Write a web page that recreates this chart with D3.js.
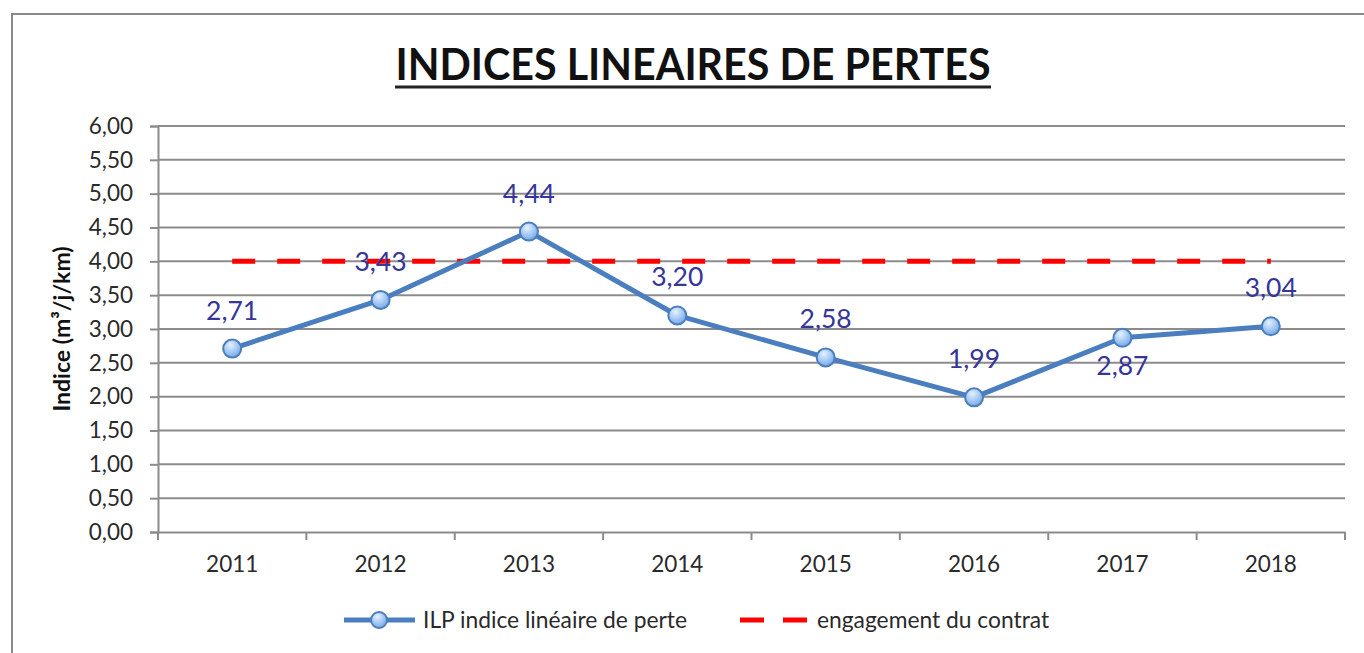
<!DOCTYPE html>
<html>
<head>
<meta charset="utf-8">
<script src="https://cdn.jsdelivr.net/npm/d3@7"></script>
<style>
  body { margin: 0; background: #fff; }
  svg { display: block; }
  svg text { font-family: Lato, "Open Sans", sans-serif; }
</style>
</head>
<body>
<svg id="chart"></svg>
<script>
var years = ["2011", "2012", "2013", "2014", "2015", "2016", "2017", "2018"];
var ilp = [2.71, 3.43, 4.44, 3.20, 2.58, 1.99, 2.87, 3.04];
var engagement = [4, 4, 4, 4, 4, 4, 4, 4];
var yTicks = [0, 0.5, 1, 1.5, 2, 2.5, 3, 3.5, 4, 4.5, 5, 5.5, 6];
// label placement: 1 = above the point, -1 = below
var labelSide = [1, 1, 1, 1, 1, 1, -1, 1];

var width = 1364, height = 653;
var margin = {top: 126, right: 19, bottom: 121, left: 158};

var fr = d3.formatLocale({decimal: ",", thousands: " ", grouping: [3], currency: ["", " €"]});
var fmt = fr.format(".2f");

var svg = d3.select("#chart")
    .attr("width", width)
    .attr("height", height);

// outer frame
svg.append("rect")
    .attr("x", 12).attr("y", 14)
    .attr("width", width + 10).attr("height", height + 10)
    .attr("fill", "#fff")
    .attr("stroke", "#8a8a8a")
    .attr("stroke-width", 2);

var x = d3.scaleBand()
    .domain(years)
    .range([margin.left, width - margin.right]);

var y = d3.scaleLinear()
    .domain([0, 6])
    .range([height - margin.bottom, margin.top]);

var cx = d => x(d) + x.bandwidth() / 2;

// title
svg.append("text")
    .attr("x", 693).attr("y", 80)
    .attr("text-anchor", "middle")
    .attr("font-size", 44)
    .attr("font-weight", "bold")
    .attr("textLength", 595)
    .attr("lengthAdjust", "spacingAndGlyphs")
    .attr("fill", "#111")
    .text("INDICES LINEAIRES DE PERTES");
svg.append("line")
    .attr("x1", 693 - 298).attr("x2", 693 + 298)
    .attr("y1", 87).attr("y2", 87)
    .attr("stroke", "#222").attr("stroke-width", 3);

// gridlines
svg.append("g")
    .selectAll("line")
    .data(yTicks.filter(d => d > 0))
    .join("line")
    .attr("x1", margin.left).attr("x2", width - margin.right)
    .attr("y1", d => y(d)).attr("y2", d => y(d))
    .attr("stroke", "#8c8c8c")
    .attr("stroke-width", 2);

// y axis
svg.append("g")
    .attr("transform", `translate(${margin.left},0)`)
    .call(d3.axisLeft(y).tickValues(yTicks).tickFormat(fmt).tickSize(8).tickPadding(17))
    .attr("font-family", null)
    .call(g => g.selectAll("line, path").attr("stroke", "#8c8c8c").attr("stroke-width", 2))
    .call(g => g.selectAll("text").attr("font-size", 22.5).attr("fill", "#2a2a2a"));

// x axis
svg.append("g")
    .attr("transform", `translate(0,${y(0)})`)
    .call(d3.axisBottom(x).tickSize(0).tickPadding(24))
    .attr("font-family", null)
    .call(g => g.select(".domain").attr("stroke", "#8c8c8c").attr("stroke-width", 2))
    .call(g => g.selectAll("text").attr("font-size", 22.5).attr("fill", "#2a2a2a"));

// x tick marks on category boundaries
var bounds = years.map(d => x(d)).concat([width - margin.right]);
svg.append("g")
    .selectAll("line")
    .data(bounds)
    .join("line")
    .attr("x1", d => d).attr("x2", d => d)
    .attr("y1", y(0)).attr("y2", y(0) + 8)
    .attr("stroke", "#8c8c8c").attr("stroke-width", 2);

// y axis title
svg.append("text")
    .attr("transform", `translate(70,${(y(0) + y(6)) / 2}) rotate(-90)`)
    .attr("text-anchor", "middle")
    .attr("font-size", 23)
    .attr("font-weight", "bold")
    .attr("fill", "#111")
    .text("Indice (m³/j/km)");

// engagement line
svg.append("path")
    .datum(engagement)
    .attr("fill", "none")
    .attr("stroke", "#ff0000")
    .attr("stroke-width", 5)
    .attr("stroke-dasharray", "23,22")
    .attr("d", d3.line().x((d, i) => cx(years[i])).y(d => y(d)));

// gradient for markers
var defs = svg.append("defs");
var grad = defs.append("radialGradient")
    .attr("id", "mk").attr("cx", "40%").attr("cy", "30%").attr("r", "75%");
grad.append("stop").attr("offset", "0%").attr("stop-color", "#e6f1ff");
grad.append("stop").attr("offset", "60%").attr("stop-color", "#9cc3f2");
grad.append("stop").attr("offset", "100%").attr("stop-color", "#6fa3e3");

// ILP line
svg.append("path")
    .datum(ilp)
    .attr("fill", "none")
    .attr("stroke", "#4a7ebf")
    .attr("stroke-width", 5)
    .attr("stroke-linejoin", "round")
    .attr("d", d3.line().x((d, i) => cx(years[i])).y(d => y(d)));

svg.append("g")
    .selectAll("circle")
    .data(ilp)
    .join("circle")
    .attr("cx", (d, i) => cx(years[i]))
    .attr("cy", d => y(d))
    .attr("r", 9)
    .attr("fill", "url(#mk)")
    .attr("stroke", "#4a7ebf")
    .attr("stroke-width", 2);

// data labels
svg.append("g")
    .selectAll("text")
    .data(ilp)
    .join("text")
    .attr("x", (d, i) => cx(years[i]))
    .attr("y", (d, i) => labelSide[i] > 0 ? y(d) - 29 : y(d) + 37)
    .attr("text-anchor", "middle")
    .attr("font-size", 26.5)
    .attr("fill", "#35359a")
    .text(d => fmt(d));

// legend
var lg = svg.append("g").attr("transform", "translate(0,620)");
lg.append("line")
    .attr("x1", 344).attr("x2", 415).attr("y1", 0).attr("y2", 0)
    .attr("stroke", "#4a7ebf").attr("stroke-width", 5);
lg.append("circle")
    .attr("cx", 379).attr("cy", 0).attr("r", 8)
    .attr("fill", "url(#mk)").attr("stroke", "#4a7ebf").attr("stroke-width", 2);
lg.append("text")
    .attr("x", 423).attr("y", 8)
    .attr("font-size", 22.8).attr("fill", "#2a2a2a")
    .text("ILP indice linéaire de perte");
lg.append("line")
    .attr("x1", 740).attr("x2", 808).attr("y1", 0).attr("y2", 0)
    .attr("stroke", "#ff0000").attr("stroke-width", 5)
    .attr("stroke-dasharray", "24,19");
lg.append("text")
    .attr("x", 817).attr("y", 8)
    .attr("font-size", 22.8).attr("fill", "#2a2a2a")
    .text("engagement du contrat");
</script>
</body>
</html>
